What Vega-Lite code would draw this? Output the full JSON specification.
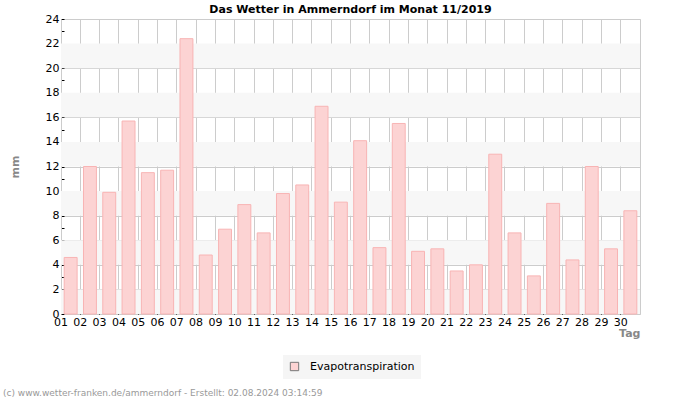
{
  "$schema": "https://vega.github.io/schema/vega-lite/v6.json",
  "autosize": {"type": "pad"},
  "padding": {"left": 3, "top": 3, "right": 10, "bottom": 2},
  "background": "white",
  "config": {
    "font": "DejaVu Sans",
    "view": {"stroke": "#cccccc", "strokeWidth": 1},
    "axisY": {"labelOverlap": false},
    "axisX": {"labelOverlap": false}
  },
  "title": {
    "text": "(c) www.wetter-franken.de/ammerndorf - Erstellt: 02.08.2024 03:14:59",
    "orient": "bottom",
    "anchor": "start",
    "frame": "group",
    "fontSize": 9,
    "fontWeight": "normal",
    "color": "#999999",
    "font": "DejaVu Sans",
    "dx": -58,
    "offset": 10
  },
  "vconcat": [
    {
      "title": {
        "text": "Das Wetter in Ammerndorf im Monat 11/2019",
        "fontSize": 11,
        "fontWeight": "bold",
        "font": "DejaVu Sans",
        "color": "#000000",
        "offset": -2
      },
      "width": 579,
      "height": 295,
      "layer": [
        {
          "data": {"values": [
            {"lo": 0, "hi": 2}, {"lo": 4, "hi": 6}, {"lo": 8, "hi": 10},
            {"lo": 12, "hi": 14}, {"lo": 16, "hi": 18}, {"lo": 20, "hi": 22}
          ]},
          "mark": {"type": "rect", "color": "#f7f7f7"},
          "encoding": {
            "y": {
              "field": "lo", "type": "quantitative",
              "scale": {"domain": [0, 24], "nice": false},
              "axis": {
                "title": "mm",
                "titleFontSize": 11,
                "titleFontWeight": "bold",
                "titleColor": "#888888",
                "titlePadding": 25,
                "values": [0,1,2,3,4,5,6,7,8,9,10,11,12,13,14,15,16,17,18,19,20,21,22,23,24],
                "labelExpr": "datum.value % 2 == 0 ? datum.label : ''",
                "labelOverlap": false,
                "labelFontSize": 11,
                "labelColor": "#000000",
                "labelPadding": 5,
                "tickSize": -3,
                "tickColor": "#000000",
                "grid": true,
                "gridColor": "#cccccc",
                "gridOpacity": {"condition": {"test": "datum.value % 2 == 1", "value": 0}, "value": 1},
                "domainColor": "#cccccc"
              }
            },
            "y2": {"field": "hi"}
          }
        },
        {
          "data": {"values": [
            {"Tag": "01", "mm": 4.6}, {"Tag": "02", "mm": 12.0}, {"Tag": "03", "mm": 9.9},
            {"Tag": "04", "mm": 15.7}, {"Tag": "05", "mm": 11.5}, {"Tag": "06", "mm": 11.7},
            {"Tag": "07", "mm": 22.4}, {"Tag": "08", "mm": 4.8}, {"Tag": "09", "mm": 6.9},
            {"Tag": "10", "mm": 8.9}, {"Tag": "11", "mm": 6.6}, {"Tag": "12", "mm": 9.8},
            {"Tag": "13", "mm": 10.5}, {"Tag": "14", "mm": 16.9}, {"Tag": "15", "mm": 9.1},
            {"Tag": "16", "mm": 14.1}, {"Tag": "17", "mm": 5.4}, {"Tag": "18", "mm": 15.5},
            {"Tag": "19", "mm": 5.1}, {"Tag": "20", "mm": 5.3}, {"Tag": "21", "mm": 3.5},
            {"Tag": "22", "mm": 4.0}, {"Tag": "23", "mm": 13.0}, {"Tag": "24", "mm": 6.6},
            {"Tag": "25", "mm": 3.1}, {"Tag": "26", "mm": 9.0}, {"Tag": "27", "mm": 4.4},
            {"Tag": "28", "mm": 12.0}, {"Tag": "29", "mm": 5.3}, {"Tag": "30", "mm": 8.4}
          ]},
          "mark": {"type": "bar", "width": {"band": 0.67}, "stroke": "#f8b4b4", "strokeWidth": 1, "fillOpacity": 1},
          "encoding": {
            "x": {
              "field": "Tag", "type": "ordinal",
              "scale": {"paddingInner": 0, "paddingOuter": 0},
              "axis": {
                "title": "Tag",
                "titleAnchor": "end",
                "titleFontSize": 11,
                "titleFontWeight": "bold",
                "titleColor": "#888888",
                "titlePadding": 0,
                "bandPosition": 0,
                "labelAngle": 0,
                "labelOffset": -9.65,
                "labelOverlap": false,
                "labelBound": false,
                "labelFontSize": 11,
                "labelColor": "#000000",
                "labelPadding": 6,
                "tickSize": -4,
                "tickColor": "#000000",
                "grid": true,
                "gridColor": "#cccccc",
                "domain": false
              }
            },
            "y": {
              "field": "mm", "type": "quantitative",
              "scale": {"domain": [0, 24], "nice": false},
              "axis": {
                "title": "mm",
                "titleFontSize": 11,
                "titleFontWeight": "bold",
                "titleColor": "#888888",
                "titlePadding": 25,
                "values": [0,1,2,3,4,5,6,7,8,9,10,11,12,13,14,15,16,17,18,19,20,21,22,23,24],
                "labelExpr": "datum.value % 2 == 0 ? datum.label : ''",
                "labelOverlap": false,
                "labelFontSize": 11,
                "labelColor": "#000000",
                "labelPadding": 5,
                "tickSize": -3,
                "tickColor": "#000000",
                "grid": true,
                "gridColor": "#cccccc",
                "gridOpacity": {"condition": {"test": "datum.value % 2 == 1", "value": 0}, "value": 1},
                "domainColor": "#cccccc"
              }
            },
            "color": {
              "datum": "Evapotranspiration",
              "type": "nominal",
              "scale": {"range": ["#fcd3d3"]},
              "legend": {
                "title": null,
                "orient": "none",
                "legendX": 222,
                "legendY": 336,
                "fillColor": "#f5f5f5",
                "padding": 6,
                "labelOffset": 10,
                "symbolType": "square",
                "symbolSize": 70,
                "symbolStrokeColor": "#777777",
                "symbolStrokeWidth": 1,
                "labelFontSize": 11,
                "labelColor": "#000000",
                "labelLimit": 300
              }
            }
          }
        }
      ]
    }
  ]
}
